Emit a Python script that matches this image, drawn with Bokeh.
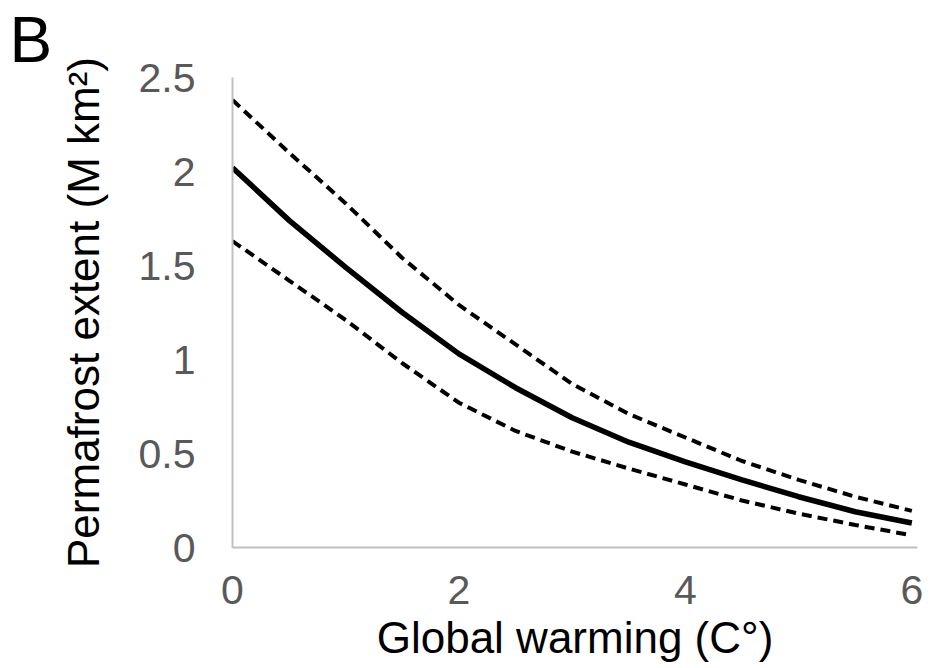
from bokeh.plotting import figure
from bokeh.models import Range1d, FixedTicker, Title
from bokeh.embed import file_html
from bokeh.resources import INLINE

# Data
warming = [0, 0.5, 1, 1.5, 2, 2.5, 3, 3.5, 4, 4.5, 5, 5.5, 6]
extent_mid = [2.02, 1.74, 1.49, 1.25, 1.03, 0.85, 0.69, 0.56, 0.455, 0.36, 0.27, 0.19, 0.13]
extent_upper = [2.38, 2.10, 1.83, 1.54, 1.29, 1.08, 0.87, 0.71, 0.585, 0.46, 0.36, 0.27, 0.195]
extent_lower = [1.63, 1.42, 1.21, 0.98, 0.77, 0.62, 0.51, 0.42, 0.335, 0.25, 0.18, 0.12, 0.065]

x_ticks = [0, 2, 4, 6]
y_ticks = [0, 0.5, 1, 1.5, 2, 2.5]
y_tick_labels = {0: "0", 0.5: "0.5", 1: "1", 1.5: "1.5", 2: "2", 2.5: "2.5"}

FONT = "Liberation Sans"

p = figure(width=945, height=668, output_backend="svg", toolbar_location=None,
           x_range=Range1d(0, 6.05), y_range=Range1d(0, 2.5),
           min_border_left=232, min_border_right=28, min_border_top=77, min_border_bottom=121)
p.background_fill_color = "white"
p.border_fill_color = "white"
p.outline_line_color = None
p.grid.visible = False

p.line(warming, extent_upper, line_color="black", line_width=4, line_dash="10 6")
p.line(warming, extent_lower, line_color="black", line_width=4, line_dash="10 6")
p.line(warming, extent_mid, line_color="black", line_width=5.5)

for ax in (p.xaxis[0], p.yaxis[0]):
    ax.axis_line_color = "#bfbfbf"
    ax.axis_line_width = 2
    ax.major_tick_line_color = None
    ax.minor_tick_line_color = None
    ax.major_tick_out = 0
    ax.minor_tick_out = 0
    ax.major_label_text_font = FONT
    ax.major_label_text_font_size = "41px"
    ax.major_label_text_color = "#595959"
    ax.axis_label_text_font = FONT
    ax.axis_label_text_font_size = "44px"
    ax.axis_label_text_font_style = "normal"
    ax.axis_label_text_color = "black"

p.xaxis[0].ticker = FixedTicker(ticks=x_ticks)
p.yaxis[0].ticker = FixedTicker(ticks=y_ticks)
p.yaxis[0].major_label_overrides = y_tick_labels
p.xaxis[0].major_label_standoff = 28
p.yaxis[0].major_label_standoff = 37
p.xaxis[0].axis_label = "Global warming (C°)"
p.yaxis[0].axis_label = "Permafrost extent (M km²)"
p.xaxis[0].axis_label_standoff = 6
p.yaxis[0].axis_label_standoff = 28

# panel letter
p.add_layout(Title(text="B", align="left", offset=-223, standoff=3,
                   text_font=FONT, text_font_size="64px", text_font_style="normal",
                   text_color="black", text_line_height=0.9), "above")

open("out.html", "w").write(file_html(p, INLINE))
